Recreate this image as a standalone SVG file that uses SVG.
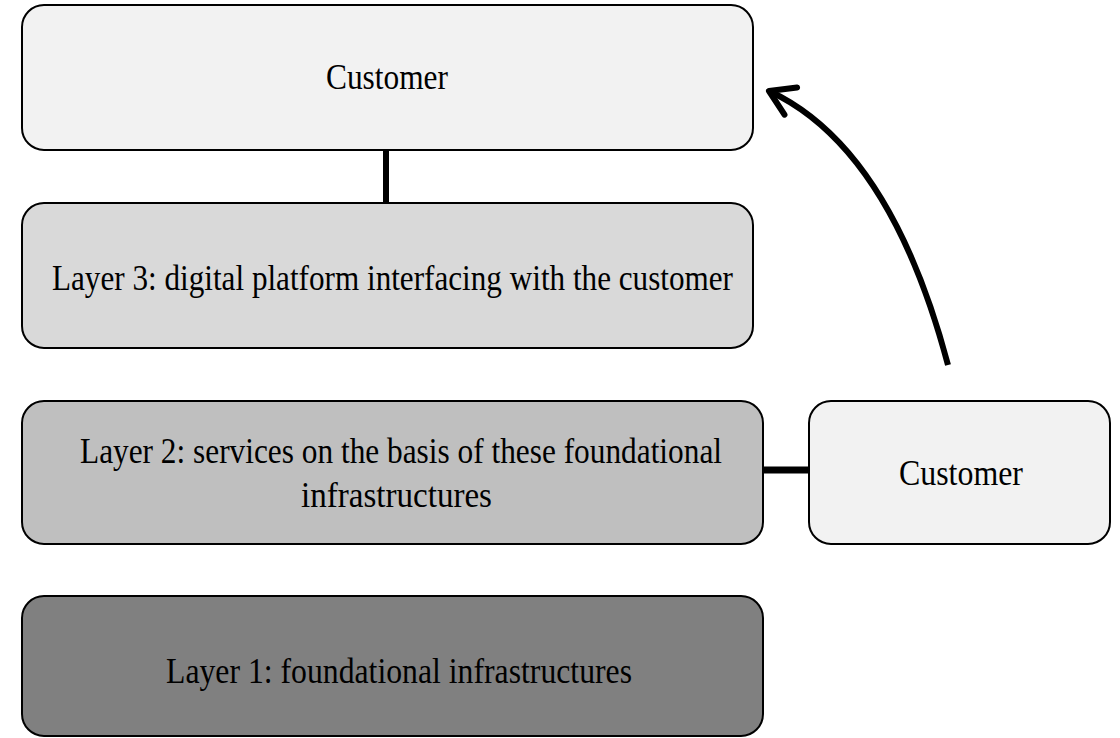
<svg xmlns="http://www.w3.org/2000/svg" width="1120" height="738" viewBox="0 0 1120 738">
<style>
.box{stroke:#000;stroke-width:2}
.lbl{font-family:"Liberation Serif","Times New Roman",serif;font-size:36px;fill:#000}
.conn{stroke:#000;fill:none}
</style>
<defs>
<marker id="arrow" markerUnits="userSpaceOnUse" markerWidth="44" markerHeight="44" viewBox="-32 -22 44 44" refX="0" refY="0" orient="auto">
<path d="M-24,-15 L0,0 L-24,15" fill="none" stroke="#000" stroke-width="6" stroke-linecap="round" stroke-linejoin="round"/>
</marker>
</defs>
<rect width="1120" height="738" fill="#fff"/>
<g id="connectors">
<line class="conn" x1="386" y1="150" x2="386" y2="203" stroke-width="6"/>
<line class="conn" x1="763" y1="470" x2="809" y2="470" stroke-width="7"/>
<path class="conn" d="M948,365 Q890,147 769,91" stroke-width="6" marker-end="url(#arrow)"/>
</g>
<g id="customer-top">
<rect class="box" x="22" y="5" width="731" height="145" rx="22" fill="#f2f2f2"/>
<text class="lbl" x="326" y="89" textLength="122" lengthAdjust="spacingAndGlyphs">Customer</text>
</g>
<g id="layer3">
<rect class="box" x="22" y="203" width="731" height="145" rx="22" fill="#d9d9d9"/>
<text class="lbl" x="52" y="290" textLength="681" lengthAdjust="spacingAndGlyphs">Layer 3: digital platform interfacing with the customer</text>
</g>
<g id="layer2">
<rect class="box" x="22" y="401" width="741" height="143" rx="22" fill="#bfbfbf"/>
<text class="lbl" x="80" y="463" textLength="642" lengthAdjust="spacingAndGlyphs">Layer 2: services on the basis of these foundational</text>
<text class="lbl" x="301" y="507" textLength="191" lengthAdjust="spacingAndGlyphs">infrastructures</text>
</g>
<g id="customer-right">
<rect class="box" x="809" y="401" width="301" height="143" rx="22" fill="#f2f2f2"/>
<text class="lbl" x="899" y="485" textLength="124" lengthAdjust="spacingAndGlyphs">Customer</text>
</g>
<g id="layer1">
<rect class="box" x="22" y="596" width="741" height="140" rx="22" fill="#808080"/>
<text class="lbl" x="166" y="683" textLength="466" lengthAdjust="spacingAndGlyphs">Layer 1: foundational infrastructures</text>
</g>
</svg>
